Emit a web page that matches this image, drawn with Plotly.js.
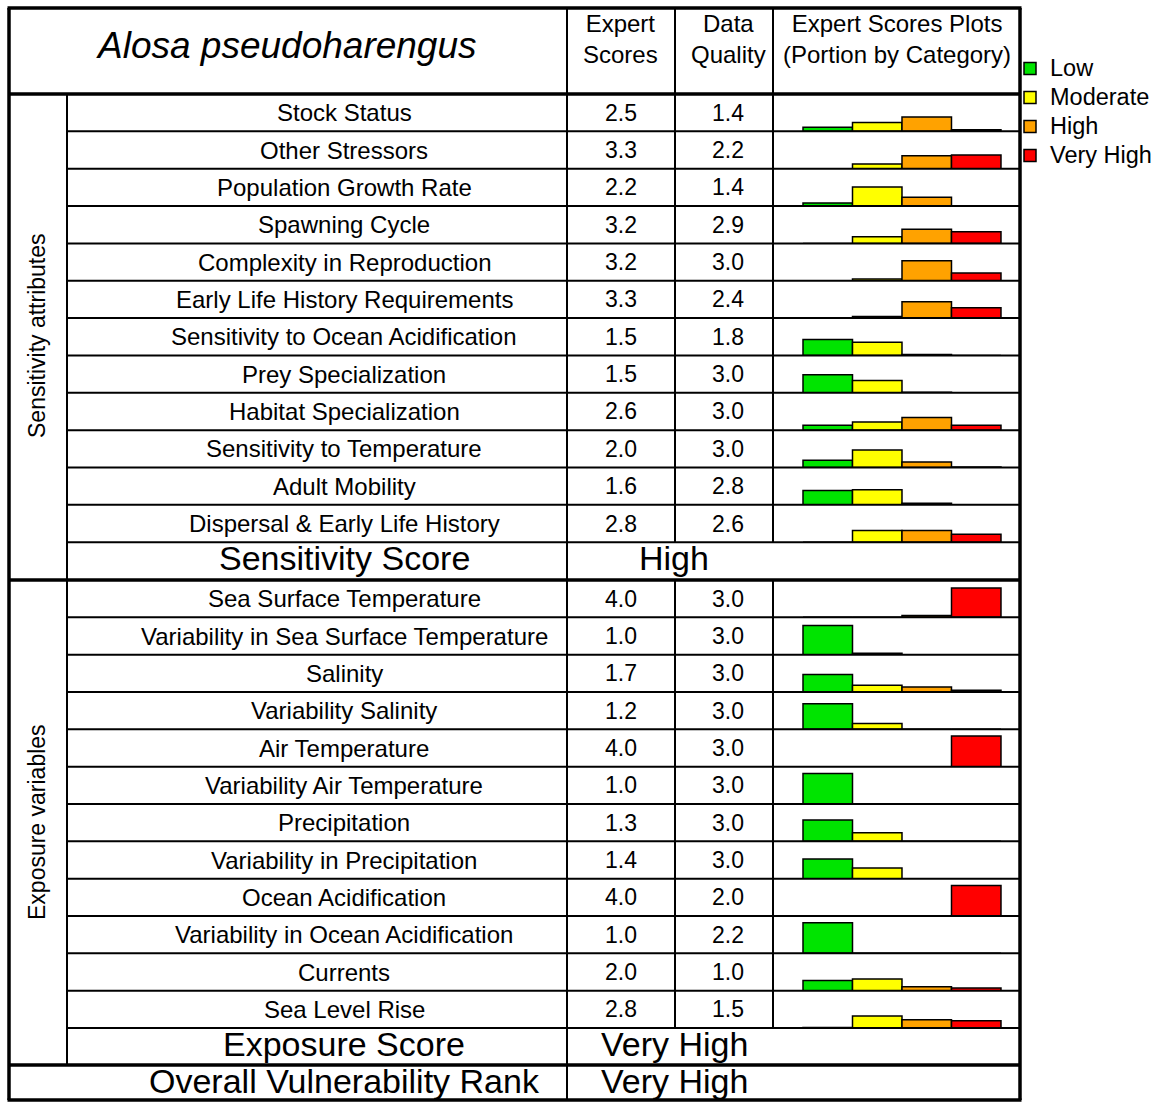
<!DOCTYPE html>
<html><head><meta charset="utf-8">
<script src="https://cdn.plot.ly/plotly-3.0.1.min.js"></script>
<style>body{margin:0;background:#fff}#chart{width:1161px;height:1102px}</style>
</head><body><div id="chart"></div>
<script>
// ---------------- DATA ----------------
const speciesName = "Alosa pseudoharengus";
const categories = ["Low", "Moderate", "High", "Very High"];
const categoryColors = ["#00e400", "#ffff00", "#ffa200", "#ff0000"];

const sensitivityAttributes = ["Stock Status", "Other Stressors", "Population Growth Rate", "Spawning Cycle",
  "Complexity in Reproduction", "Early Life History Requirements", "Sensitivity to Ocean Acidification",
  "Prey Specialization", "Habitat Specialization", "Sensitivity to Temperature", "Adult Mobility",
  "Dispersal & Early Life History"];
const sensitivityExpert = [2.5, 3.3, 2.2, 3.2, 3.2, 3.3, 1.5, 1.5, 2.6, 2.0, 1.6, 2.8];
const sensitivityQuality = [1.4, 2.2, 1.4, 2.9, 3.0, 2.4, 1.8, 3.0, 3.0, 3.0, 2.8, 2.6];
const sensitivityLow      = [0.13, 0.00, 0.10, 0.00, 0.00, 0.00, 0.52, 0.59, 0.16, 0.24, 0.47, 0.00];
const sensitivityModerate = [0.29, 0.15, 0.62, 0.22, 0.06, 0.05, 0.43, 0.40, 0.27, 0.57, 0.49, 0.38];
const sensitivityHigh     = [0.47, 0.42, 0.29, 0.46, 0.65, 0.53, 0.03, 0.02, 0.41, 0.18, 0.05, 0.38];
const sensitivityVeryHigh = [0.05, 0.45, 0.00, 0.38, 0.25, 0.34, 0.00, 0.00, 0.16, 0.02, 0.00, 0.26];

const exposureVariables = ["Sea Surface Temperature", "Variability in Sea Surface Temperature", "Salinity",
  "Variability Salinity", "Air Temperature", "Variability Air Temperature", "Precipitation",
  "Variability in Precipitation", "Ocean Acidification", "Variability in Ocean Acidification",
  "Currents", "Sea Level Rise"];
const exposureExpert = [4.0, 1.0, 1.7, 1.2, 4.0, 1.0, 1.3, 1.4, 4.0, 1.0, 2.0, 2.8];
const exposureQuality = [3.0, 3.0, 3.0, 3.0, 3.0, 3.0, 3.0, 3.0, 2.0, 2.2, 1.0, 1.5];
const exposureLow      = [0.00, 0.95, 0.57, 0.84, 0.00, 1.00, 0.70, 0.64, 0.00, 1.00, 0.33, 0.02];
const exposureModerate = [0.00, 0.05, 0.22, 0.19, 0.00, 0.00, 0.28, 0.35, 0.00, 0.00, 0.38, 0.39];
const exposureHigh     = [0.06, 0.00, 0.16, 0.00, 0.00, 0.00, 0.00, 0.00, 0.00, 0.00, 0.13, 0.27];
const exposureVeryHigh = [0.96, 0.00, 0.06, 0.00, 1.00, 0.00, 0.00, 0.00, 1.00, 0.00, 0.09, 0.24];

const sensitivityScore = "High";
const exposureScore = "Very High";
const overallRank = "Very High";

// ---------------- GEOMETRY ----------------
const W = 1161, H = 1102;
const px = x => x / W, py = y => 1 - y / H;
const FONT = "Liberation Sans, Arial, sans-serif";
const colL = 9, colSide = 67, colName = 567, colExp = 675, colDQ = 773, colR = 1020;
const yTop = 8, yHead = 94, ySec = 580, yExpEnd = 1028, yExpScore = 1065, yBot = 1100;
const rh = 37.35, ySensEnd = yHead + 12 * rh, rh2 = (yExpEnd - ySec) / 12;
const nameX = 344, expX = 621, dqX = 728;

const rows = [];
sensitivityAttributes.forEach((n, i) => rows.push({
  name: n, es: sensitivityExpert[i], dq: sensitivityQuality[i],
  p: [sensitivityLow[i], sensitivityModerate[i], sensitivityHigh[i], sensitivityVeryHigh[i]],
  top: yHead + i * rh, bot: yHead + (i + 1) * rh }));
exposureVariables.forEach((n, i) => rows.push({
  name: n, es: exposureExpert[i], dq: exposureQuality[i],
  p: [exposureLow[i], exposureModerate[i], exposureHigh[i], exposureVeryHigh[i]],
  top: ySec + i * rh2, bot: ySec + (i + 1) * rh2 }));

const layout = {
  width: W, height: H, margin: {l: 0, r: 0, t: 0, b: 0},
  paper_bgcolor: "#ffffff", plot_bgcolor: "rgba(0,0,0,0)",
  barmode: "overlay", showlegend: true,
  legend: {x: px(1010), y: py(49), xanchor: "left", yanchor: "top",
    font: {family: FONT, size: 20, color: "#000"}, bgcolor: "rgba(0,0,0,0)",
    tracegroupgap: 0, itemwidth: 30},
  xaxis: {domain: [px(colDQ), px(colR)], range: [-1.106, 3.884], visible: false, fixedrange: true, anchor: "y"},
  shapes: [], annotations: []
};

const traces = [];
rows.forEach((r, k) => {
  const yn = k === 0 ? "y" : "y" + (k + 1);
  const ln = k === 0 ? "yaxis" : "yaxis" + (k + 1);
  layout[ln] = {domain: [py(r.bot), py(r.top)], range: [0, 1.22], visible: false, fixedrange: true, anchor: "x"};
  categories.forEach((c, j) => {
    traces.push({type: "bar", x: [j], y: [r.p[j]], width: [1], xaxis: "x", yaxis: yn,
      name: '<span style="font-size:23.5px">' + c + '</span>', legendgroup: c, showlegend: k === 0, hoverinfo: "skip",
      marker: {color: categoryColors[j], line: {color: "#000", width: 1.5}}});
  });
});

// ---------------- LINES ----------------
function hline(y, x0, x1, w) { layout.shapes.push({type: "line", xref: "paper", yref: "paper", x0: px(x0), x1: px(x1), y0: py(y), y1: py(y), line: {color: "#000", width: w}}); }
function vline(x, y0, y1, w) { layout.shapes.push({type: "line", xref: "paper", yref: "paper", x0: px(x), x1: px(x), y0: py(y0), y1: py(y1), line: {color: "#000", width: w}}); }

for (let i = 1; i <= 12; i++) hline(yHead + i * rh, colSide, colR, 2);
for (let i = 1; i <= 12; i++) hline(ySec + i * rh2, colSide, colR, 2);
vline(colSide, yHead, yExpScore, 2);
vline(colName, yTop, yBot, 2);
vline(colExp, yTop, ySensEnd, 2); vline(colExp, ySec, yExpEnd, 2);
vline(colDQ, yTop, ySensEnd, 2); vline(colDQ, ySec, yExpEnd, 2);
hline(yHead, colL, colR, 3.5);
hline(ySec, colL, colR, 3.5);
hline(yExpScore, colL, colR, 3.5);
hline(yTop, colL - 1.5, colR + 1.5, 3.5);
hline(yBot, colL - 1.5, colR + 1.5, 3.5);
vline(colL, yTop, yBot, 3.5);
vline(colR, yTop, yBot, 3.5);

// ---------------- TEXT ----------------
function txt(x, y, s, size, extra) {
  layout.annotations.push(Object.assign({xref: "paper", yref: "paper", x: px(x), y: py(y), text: s,
    showarrow: false, xanchor: "center", yanchor: "middle",
    font: {family: FONT, size: size, color: "#000"}}, extra || {}));
}
txt(286, 46, "<i>" + speciesName + "</i>", 37);
txt(expX, 39, "Expert<br>Scores", 24);
txt(dqX, 39, "Data<br>Quality", 24);
txt(897, 39, "Expert Scores Plots<br>(Portion by Category)", 24);

rows.forEach(r => {
  const yc = (r.top + r.bot) / 2;
  txt(nameX, yc, r.name, 24);
  txt(expX, yc, r.es.toFixed(1), 23);
  txt(dqX, yc, r.dq.toFixed(1), 23);
});

txt(nameX, 558, "Sensitivity Score", 34);
txt(674, 558, sensitivityScore, 34);
txt(nameX, 1044, "Exposure Score", 34);
txt(674, 1044, exposureScore, 34);
txt(nameX, 1081, "Overall Vulnerability Rank", 34);
txt(674, 1081, overallRank, 34);

txt(37, 336, "Sensitivity attributes", 23, {textangle: -90});
txt(37, 822, "Exposure variables", 23, {textangle: -90});

Plotly.newPlot("chart", traces, layout, {staticPlot: true});
</script>
</body></html>
